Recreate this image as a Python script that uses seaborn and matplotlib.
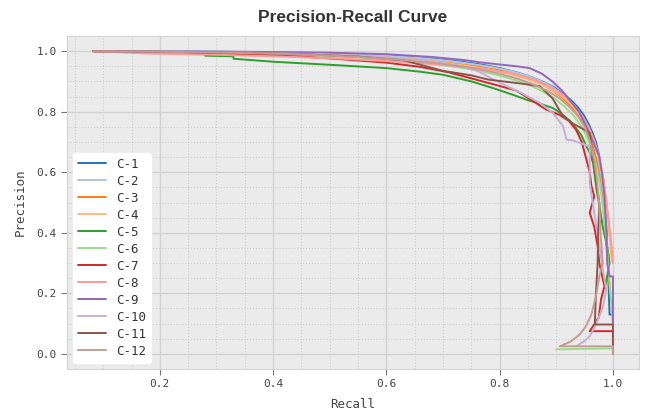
import numpy as np
import pandas as pd
import matplotlib
matplotlib.use("Agg")
import matplotlib.pyplot as plt
from matplotlib.ticker import MultipleLocator
import seaborn as sns

# Precision-recall points, one curve per class
labels = ["C-1", "C-2", "C-3", "C-4", "C-5", "C-6", "C-7", "C-8", "C-9", "C-10", "C-11", "C-12"]

r1 = [0.082, 0.20, 0.30, 0.40, 0.48, 0.55, 0.62, 0.68, 0.73, 0.77, 0.80, 0.83, 0.855, 0.875, 0.895, 0.91, 0.925, 0.938, 0.948, 0.957, 0.964, 0.97, 0.975, 0.979, 0.983, 0.986, 0.989, 0.991, 0.994, 1.0]
p1 = [1.0, 0.999, 0.998, 0.996, 0.993, 0.99, 0.984, 0.976, 0.966, 0.955, 0.944, 0.93, 0.915, 0.9, 0.882, 0.862, 0.84, 0.815, 0.79, 0.76, 0.73, 0.70, 0.66, 0.61, 0.55, 0.48, 0.40, 0.30, 0.13, 0.13]

r2 = [0.082, 0.22, 0.35, 0.45, 0.53, 0.60, 0.66, 0.71, 0.75, 0.79, 0.82, 0.85, 0.87, 0.89, 0.905, 0.92, 0.933, 0.944, 0.953, 0.961, 0.968, 0.973, 0.977, 0.981, 0.984, 0.987, 0.99, 1.0]
p2 = [1.0, 0.999, 0.997, 0.995, 0.991, 0.985, 0.977, 0.968, 0.958, 0.946, 0.934, 0.918, 0.903, 0.885, 0.866, 0.843, 0.818, 0.79, 0.76, 0.728, 0.695, 0.66, 0.615, 0.56, 0.50, 0.43, 0.35, 0.35]

r3 = [0.082, 0.2, 0.3, 0.4, 0.5, 0.58, 0.65, 0.71, 0.76, 0.80, 0.83, 0.855, 0.875, 0.893, 0.908, 0.922, 0.935, 0.945, 0.953, 0.96, 0.966, 0.971, 0.975, 0.979, 0.982, 0.985, 0.988, 0.99, 0.993, 0.995]
p3 = [1.0, 0.998, 0.996, 0.993, 0.988, 0.981, 0.972, 0.961, 0.949, 0.936, 0.922, 0.906, 0.89, 0.87, 0.85, 0.825, 0.80, 0.77, 0.74, 0.71, 0.675, 0.64, 0.60, 0.55, 0.50, 0.44, 0.38, 0.32, 0.25, 0.20]

r4 = [0.082, 0.25, 0.38, 0.48, 0.56, 0.63, 0.69, 0.74, 0.78, 0.815, 0.845, 0.87, 0.89, 0.907, 0.922, 0.935, 0.946, 0.955, 0.963, 0.97, 0.976, 0.981, 0.985, 0.989, 0.992, 0.995, 0.997, 1.0]
p4 = [1.0, 0.998, 0.995, 0.99, 0.984, 0.975, 0.964, 0.952, 0.94, 0.926, 0.91, 0.893, 0.875, 0.855, 0.832, 0.805, 0.775, 0.745, 0.715, 0.68, 0.645, 0.60, 0.55, 0.49, 0.43, 0.37, 0.32, 0.30]

r5 = [0.082, 0.20, 0.28, 0.28, 0.33, 0.33, 0.40, 0.50, 0.60, 0.66, 0.70, 0.75, 0.79, 0.82, 0.85, 0.875, 0.894, 0.91, 0.924, 0.935, 0.945, 0.952, 0.959, 0.965, 0.971, 0.977, 0.982, 0.988, 0.992, 0.994, 0.986]
p5 = [1.0, 0.997, 0.995, 0.985, 0.983, 0.975, 0.965, 0.955, 0.944, 0.932, 0.922, 0.9, 0.877, 0.858, 0.838, 0.824, 0.812, 0.792, 0.77, 0.745, 0.72, 0.69, 0.665, 0.63, 0.543, 0.48, 0.42, 0.368, 0.33, 0.30, 0.22]

r6 = [0.082, 0.22, 0.35, 0.45, 0.55, 0.63, 0.70, 0.75, 0.79, 0.825, 0.855, 0.878, 0.898, 0.915, 0.93, 0.942, 0.952, 0.96, 0.967, 0.973, 0.978, 0.982, 0.986, 0.99, 0.993, 1.0, 1.0, 0.90]
p6 = [1.0, 0.998, 0.993, 0.988, 0.979, 0.967, 0.954, 0.94, 0.924, 0.906, 0.886, 0.865, 0.842, 0.816, 0.788, 0.758, 0.725, 0.69, 0.65, 0.60, 0.55, 0.49, 0.42, 0.34, 0.26, 0.10, 0.018, 0.015]

r7 = [0.082, 0.20, 0.35, 0.45, 0.53, 0.60, 0.66, 0.71, 0.75, 0.79, 0.829, 0.855, 0.882, 0.905, 0.922, 0.935, 0.945, 0.952, 0.959, 0.962, 0.967, 0.959, 0.967, 0.973, 0.976, 0.985, 0.979, 0.975, 0.959, 1.0]
p7 = [1.0, 0.997, 0.99, 0.982, 0.972, 0.962, 0.948, 0.93, 0.91, 0.89, 0.87, 0.84, 0.807, 0.79, 0.77, 0.74, 0.70, 0.65, 0.60, 0.555, 0.52, 0.466, 0.42, 0.356, 0.30, 0.223, 0.18, 0.12, 0.075, 0.075]

r8 = [0.082, 0.18, 0.30, 0.42, 0.52, 0.60, 0.67, 0.73, 0.78, 0.82, 0.855, 0.88, 0.90, 0.918, 0.933, 0.946, 0.957, 0.966, 0.973, 0.979, 0.984, 0.988, 0.992, 0.995, 0.998, 1.0]
p8 = [1.0, 0.992, 0.988, 0.982, 0.975, 0.967, 0.959, 0.95, 0.94, 0.927, 0.91, 0.89, 0.87, 0.846, 0.818, 0.785, 0.75, 0.71, 0.67, 0.62, 0.57, 0.51, 0.45, 0.40, 0.35, 0.30]

r9 = [0.082, 0.20, 0.35, 0.50, 0.60, 0.68, 0.74, 0.765, 0.80, 0.83, 0.853, 0.875, 0.893, 0.91, 0.923, 0.94, 0.953, 0.965, 0.976, 0.981, 0.985, 0.988, 0.990, 0.994, 1.0, 1.0]
p9 = [1.0, 0.999, 0.998, 0.995, 0.99, 0.981, 0.97, 0.963, 0.956, 0.95, 0.944, 0.925, 0.90, 0.87, 0.84, 0.80, 0.751, 0.70, 0.652, 0.59, 0.52, 0.42, 0.30, 0.256, 0.256, 0.10]

r10 = [0.082, 0.22, 0.36, 0.48, 0.58, 0.66, 0.72, 0.76, 0.80, 0.84, 0.871, 0.894, 0.912, 0.918, 0.93, 0.941, 0.959, 0.959, 0.968, 0.976, 0.982, 0.988, 0.983, 0.976, 0.968, 0.959, 0.948, 0.935]
p10 = [1.0, 0.998, 0.995, 0.99, 0.982, 0.97, 0.955, 0.935, 0.896, 0.86, 0.829, 0.796, 0.752, 0.708, 0.705, 0.697, 0.686, 0.566, 0.455, 0.356, 0.28, 0.212, 0.16, 0.124, 0.09, 0.058, 0.04, 0.025]

r11 = [0.082, 0.20, 0.33, 0.45, 0.55, 0.63, 0.70, 0.75, 0.78, 0.82, 0.85, 0.871, 0.893, 0.912, 0.93, 0.945, 0.959, 0.963, 0.968, 0.972, 0.976, 0.974, 0.973, 0.97, 0.968, 1.0, 1.0]
p11 = [1.0, 0.998, 0.995, 0.99, 0.982, 0.97, 0.935, 0.92, 0.906, 0.897, 0.89, 0.884, 0.845, 0.785, 0.76, 0.745, 0.73, 0.67, 0.609, 0.55, 0.499, 0.40, 0.30, 0.20, 0.097, 0.097, 0.0]

r12 = [0.082, 0.20, 0.32, 0.44, 0.54, 0.62, 0.69, 0.745, 0.79, 0.83, 0.86, 0.885, 0.905, 0.922, 0.937, 0.95, 0.96, 0.967, 0.972, 0.976, 0.978, 0.982, 0.976, 0.97, 0.962, 0.952, 0.941, 0.925, 0.906, 1.0, 1.0]
p12 = [1.0, 0.998, 0.995, 0.99, 0.982, 0.972, 0.96, 0.946, 0.93, 0.91, 0.89, 0.868, 0.845, 0.818, 0.788, 0.75, 0.70, 0.64, 0.57, 0.49, 0.40, 0.30, 0.256, 0.19, 0.13, 0.09, 0.064, 0.04, 0.025, 0.025, 0.0]

recalls = [r1, r2, r3, r4, r5, r6, r7, r8, r9, r10, r11, r12]
precisions = [p1, p2, p3, p4, p5, p6, p7, p8, p9, p10, p11, p12]

frames = []
for lab, r, p in zip(labels, recalls, precisions):
    frames.append(pd.DataFrame({"Recall": r, "Precision": p, "Class": lab}))
df = pd.concat(frames, ignore_index=True)

sns.set_style("darkgrid", {
    "axes.facecolor": "#ebebeb",
    "axes.edgecolor": "#d4d4d4",
    "grid.color": "#d2d2d2",
})
mono = ["DejaVu Sans Mono"]
plt.rcParams["font.family"] = mono

fig, ax = plt.subplots(figsize=(6.48, 4.13), dpi=100)
fig.subplots_adjust(left=0.1034, right=0.986, top=0.9128, bottom=0.1065)

sns.lineplot(data=df, x="Recall", y="Precision", hue="Class", hue_order=labels,
             palette=sns.color_palette("tab20", 12), sort=False, estimator=None,
             linewidth=1.4, ax=ax)

ax.xaxis.set_major_locator(MultipleLocator(0.2))
ax.yaxis.set_major_locator(MultipleLocator(0.2))
ax.xaxis.set_minor_locator(MultipleLocator(0.05))
ax.yaxis.set_minor_locator(MultipleLocator(0.05))
ax.grid(which="major", color="#d2d2d2", linewidth=1.0, linestyle="-")
ax.grid(which="minor", color="#cfcfcf", linewidth=0.8, linestyle=":")
ax.tick_params(which="major", length=4, width=0.8, color="#777777", labelsize=8, labelcolor="#444444", bottom=True, left=True)
ax.tick_params(which="minor", length=0)
for s in ax.spines.values():
    s.set_linewidth(0.8)

ax.set_xlabel("Recall", fontsize=9, color="#444444", labelpad=6)
ax.set_ylabel("Precision", fontsize=9, color="#444444", labelpad=7)
ax.set_title("Precision-Recall Curve", fontsize=12.5, fontweight="bold",
             family=["Liberation Sans", "DejaVu Sans"], color="#333333", pad=10)

leg = ax.legend(loc="lower left", fontsize=9, labelspacing=0.32, handlelength=2.2,
                frameon=True, facecolor="white", edgecolor="white", framealpha=1.0,
                borderaxespad=0.5)
for t in leg.get_texts():
    t.set_color("#333333")

plt.savefig("out.png", dpi=100)
